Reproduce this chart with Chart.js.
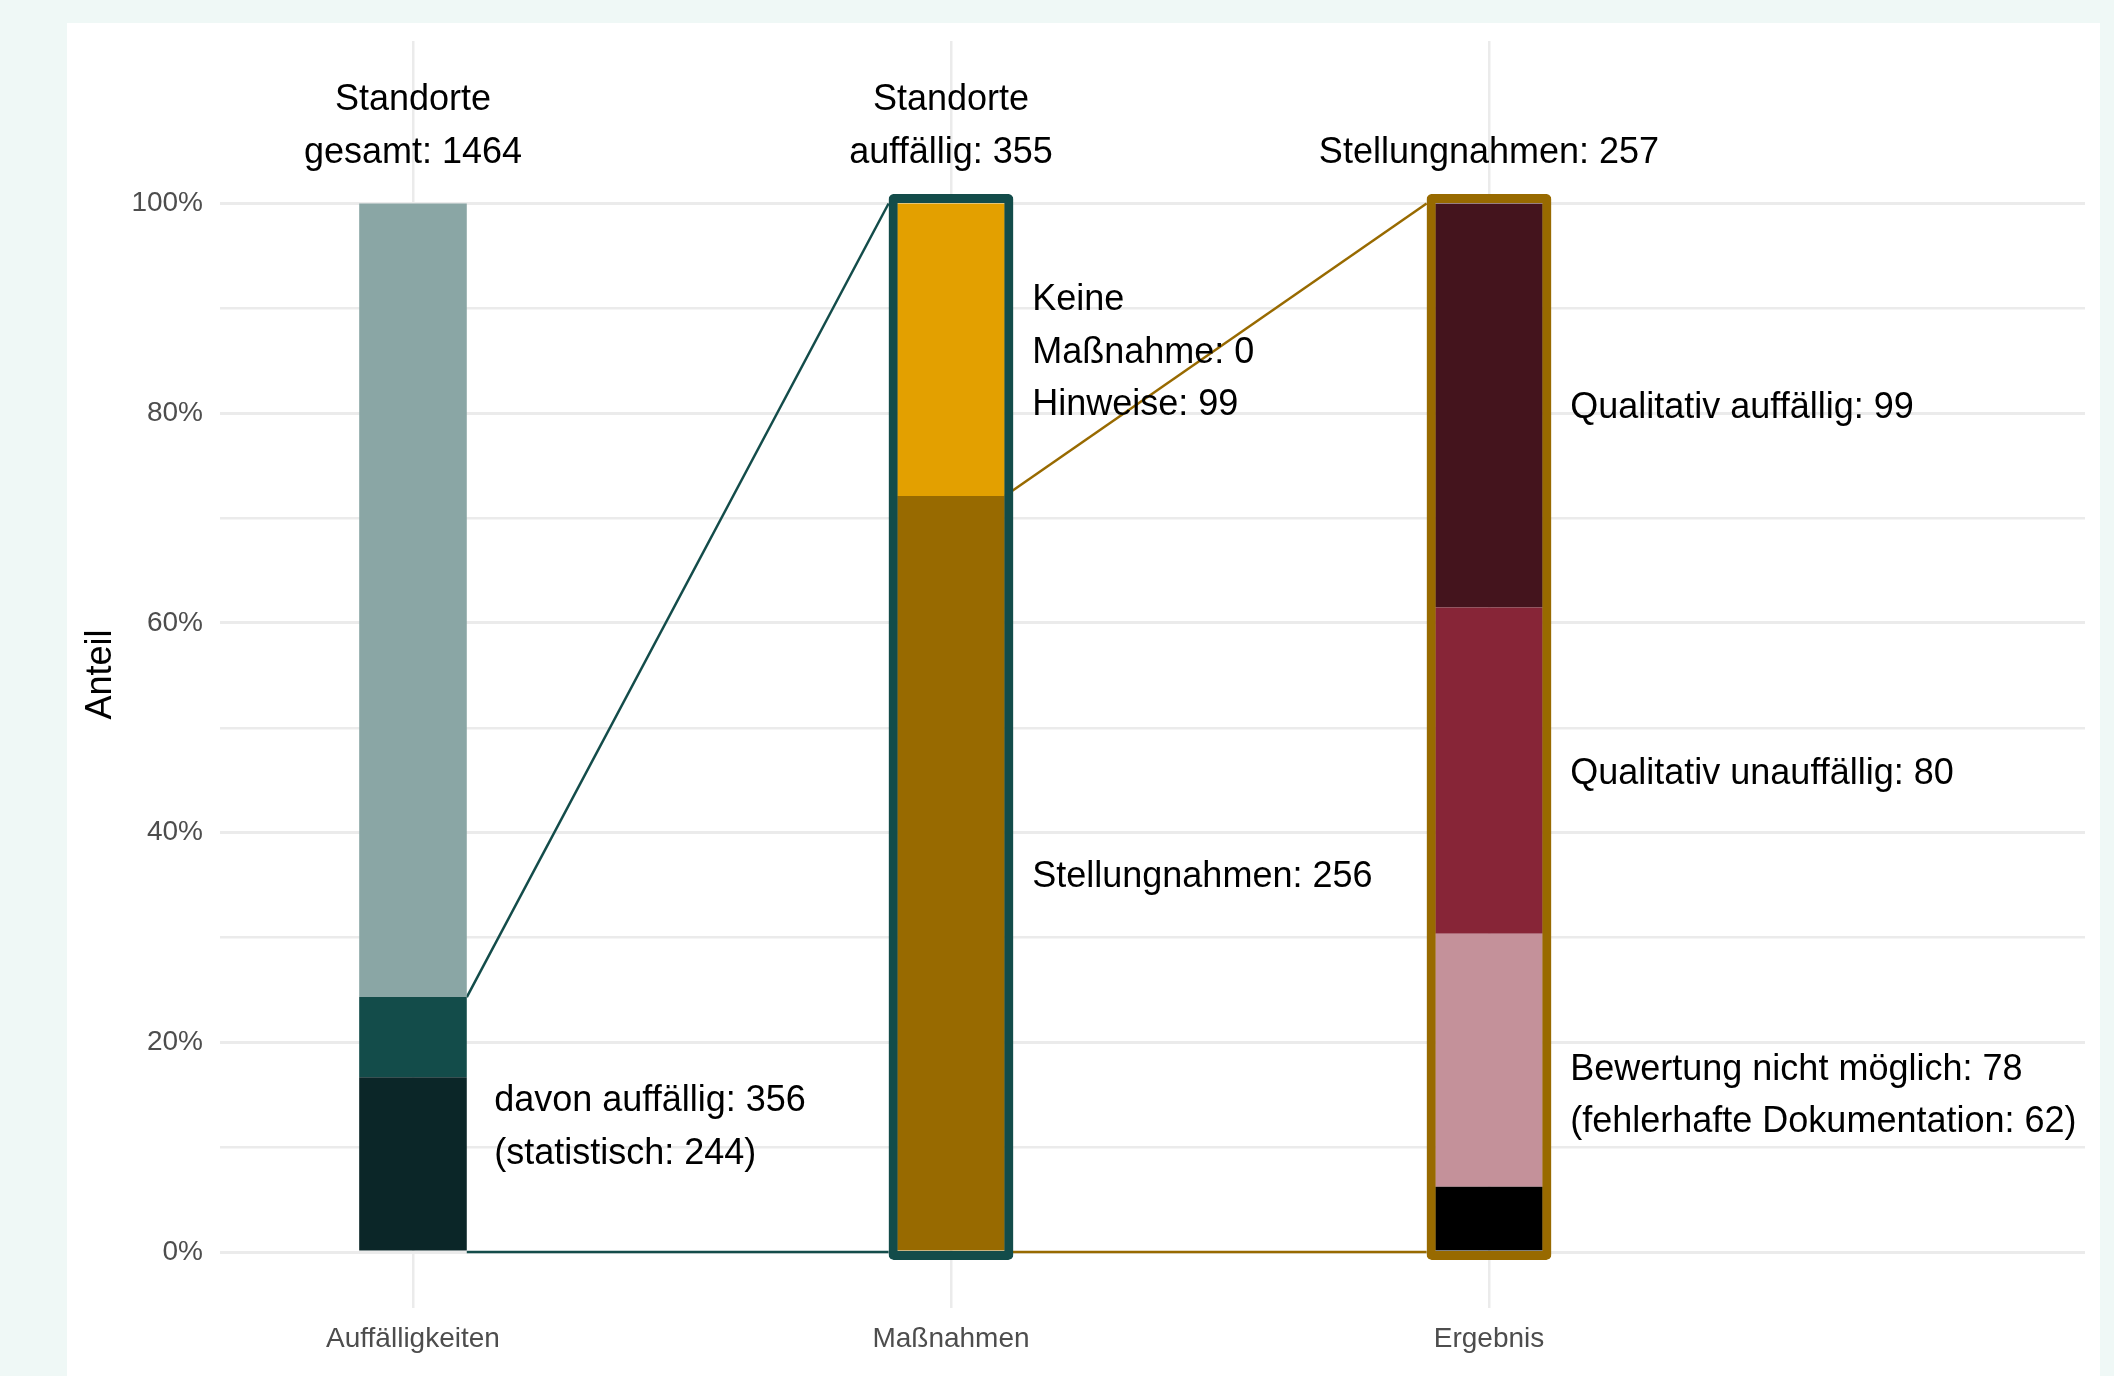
<!DOCTYPE html>
<html lang="de">
<head>
<meta charset="utf-8">
<title>Auffälligkeiten – Maßnahmen – Ergebnis</title>
<script src="https://cdn.jsdelivr.net/npm/chart.js@4.4.1/dist/chart.umd.min.js"></script>
<style>
  html, body { margin: 0; padding: 0; }
  body { width: 2114px; height: 1376px; background: #eff8f6; position: relative; overflow: hidden; }
  #panel { position: absolute; left: 67px; top: 23px; width: 2033px; height: 1353px; background: #ffffff; }
  #chart { display: block; }
</style>
</head>
<body>
<div id="panel"><canvas id="chart" width="2033" height="1353"></canvas></div>
<script>
// Kategorien (x-Achse)
const categories = ['Auffälligkeiten', 'Maßnahmen', 'Ergebnis'];

// Anzahl je Segment, von unten nach oben
const auffaelligkeiten = [244, 112, 1108];   // statistisch, übrige auffällig, unauffällig
const massnahmen = [256, 99];                // Stellungnahmen, Hinweise (keine Maßnahme: 0)
const ergebnis = [16, 62, 80, 99];           // Bewertung n. m. (Rest), fehlerhafte Doku, qual. unauffällig, qual. auffällig

// Farben je Segment
const farbenAuff = ['#0b2628', '#134c4a', '#8aa6a5'];
const farbenMass = ['#986a00', '#e3a000'];
const farbenErg = ['#000000', '#c4919a', '#872537', '#44141d'];
const rahmenFarben = [null, '#134c4a', '#986a00'];

// y-Achse
const yTicks = [0, 10, 20, 30, 40, 50, 60, 70, 80, 90, 100];
const yTickLabels = ['0%', '', '20%', '', '40%', '', '60%', '', '80%', '', '100%'];

// Beschriftungen
const kopfTexte = [
    ['Standorte', 'gesamt: 1464'],
    ['Standorte', 'auffällig: 355'],
    ['Stellungnahmen: 257']
];
const segmentTexte = [
    { bar: 0, von: 0, bis: 2, zeilen: ['davon auffällig: 356', '(statistisch: 244)'] },
    { bar: 1, von: 1, bis: 2, zeilen: ['Keine', 'Maßnahme: 0', 'Hinweise: 99'] },
    { bar: 1, von: 0, bis: 1, zeilen: ['Stellungnahmen: 256'] },
    { bar: 2, von: 3, bis: 4, zeilen: ['Qualitativ auffällig: 99'] },
    { bar: 2, von: 2, bis: 3, zeilen: ['Qualitativ unauffällig: 80'] },
    { bar: 2, von: 0, bis: 2, zeilen: ['Bewertung nicht möglich: 78', '(fehlerhafte Dokumentation: 62)'] }
];
// Verbindungslinien: von Balken, Oberkante von Stufe
const verbindungen = [
    { von: 0, stufe: 2, farbe: '#134c4a' },
    { von: 1, stufe: 1, farbe: '#986a00' }
];

// Anteile in %
const balken = [auffaelligkeiten, massnahmen, ergebnis];
const farben = [farbenAuff, farbenMass, farbenErg];
const anteile = balken.map(w => {
    const summe = w.reduce((a, b) => a + b, 0);
    return w.map(v => v / summe * 100);
});
const kumuliert = anteile.map(a => {
    let c = 0;
    return [0, ...a.map(v => (c += v))];
});

const halbeBreite = 0.1;
const rahmenBreite = 0.016;

const datasets = [];

// Rahmen um Balken 2 und 3
rahmenFarben.forEach((farbe, i) => {
    if (!farbe) return;
    datasets.push({
        type: 'bar',
        data: [{ x: i + 1, y: [-0.76, 100.9] }],
        backgroundColor: 'rgba(0,0,0,0)',
        borderColor: farbe,
        borderWidth: 9,
        borderSkipped: false,
        borderRadius: 5,
        grouped: false,
        barPercentage: 2 * (halbeBreite + rahmenBreite),
        categoryPercentage: 1,
        stack: 'rahmen' + i,
        order: -1
    });
});

// gestapelte Segmente
anteile.forEach((werte, i) => {
    werte.forEach((v, k) => {
        datasets.push({
            type: 'bar',
            data: [{ x: i + 1, y: v }],
            backgroundColor: farben[i][k],
            borderWidth: 0,
            barPercentage: 2 * halbeBreite,
            categoryPercentage: 1,
            stack: 'balken'
        });
    });
});

// Verbindungslinien
verbindungen.forEach((v, n) => {
    const x0 = v.von + 1 + halbeBreite;
    const x1 = v.von + 2 - halbeBreite - rahmenBreite;
    [[kumuliert[v.von][v.stufe], 100], [0, 0]].forEach(([y0, y1], m) => {
        datasets.push({
            type: 'line',
            data: [{ x: x0, y: y0 }, { x: x1, y: y1 }],
            borderColor: v.farbe,
            borderWidth: 2.5,
            pointRadius: 0,
            fill: false,
            stack: 'linie' + n + '_' + m
        });
    });
});

// Beschriftungen zeichnen
const beschriftung = {
    id: 'beschriftung',
    afterDatasetsDraw(chart) {
        const { ctx, scales: { x, y } } = chart;
        const zeilenAbstand = 52.5;
        ctx.save();
        ctx.font = '36px "Liberation Sans", Arial, sans-serif';
        ctx.fillStyle = '#000000';
        ctx.textBaseline = 'alphabetic';

        ctx.textAlign = 'center';
        kopfTexte.forEach((zeilen, i) => {
            const px = x.getPixelForValue(i + 1);
            const basis = y.getPixelForValue(103.9);
            zeilen.forEach((z, k) => {
                ctx.fillText(z, px, basis - (zeilen.length - 1 - k) * zeilenAbstand);
            });
        });

        ctx.textAlign = 'left';
        segmentTexte.forEach(t => {
            const kum = kumuliert[t.bar];
            const mitte = (kum[t.von] + kum[t.bis]) / 2;
            const px = x.getPixelForValue(t.bar + 1 + 0.151);
            const py = y.getPixelForValue(mitte) + 12.9;
            t.zeilen.forEach((z, k) => {
                ctx.fillText(z, px, py + (k - (t.zeilen.length - 1) / 2) * zeilenAbstand);
            });
        });
        ctx.restore();
    }
};

Chart.defaults.font.family = '"Liberation Sans", Arial, sans-serif';

new Chart(document.getElementById('chart').getContext('2d'), {
    type: 'bar',
    data: { datasets: datasets },
    options: {
        responsive: false,
        devicePixelRatio: 1,
        animation: false,
        layout: { padding: { top: 18, right: 15, bottom: 0, left: 0 } },
        plugins: {
            legend: { display: false },
            tooltip: { enabled: false }
        },
        scales: {
            x: {
                type: 'linear',
                stacked: true,
                offset: false,
                min: 0.6413,
                max: 4.1078,
                afterBuildTicks: s => { s.ticks = categories.map((c, i) => ({ value: i + 1 })); },
                afterFit: s => { s.height = 68; s.paddingLeft = 0; s.paddingRight = 0; },
                ticks: {
                    autoSkip: false,
                    maxRotation: 0,
                    padding: 14,
                    color: '#4d4d4d',
                    font: { size: 28 },
                    callback: v => categories[Math.round(v) - 1]
                },
                grid: { color: '#ebebeb', lineWidth: 2.5, drawTicks: false, offset: false },
                border: { display: false }
            },
            y: {
                type: 'linear',
                stacked: true,
                min: -5.34,
                max: 115.5,
                afterBuildTicks: s => { s.ticks = yTicks.map(v => ({ value: v })); },
                afterFit: s => { s.width = 153; s.paddingTop = 0; s.paddingBottom = 0; },
                ticks: {
                    padding: 17,
                    color: '#4d4d4d',
                    font: { size: 28 },
                    callback: v => yTickLabels[yTicks.indexOf(v)]
                },
                grid: {
                    color: '#ebebeb',
                    lineWidth: c => (c.tick && c.tick.value % 20 === 0 ? 3 : 2.5),
                    drawTicks: false
                },
                border: { display: false },
                title: {
                    display: true,
                    text: 'Anteil',
                    color: '#000000',
                    font: { size: 36 },
                    padding: { top: 12, bottom: 0 }
                }
            }
        }
    },
    plugins: [beschriftung]
});
</script>
</body>
</html>
